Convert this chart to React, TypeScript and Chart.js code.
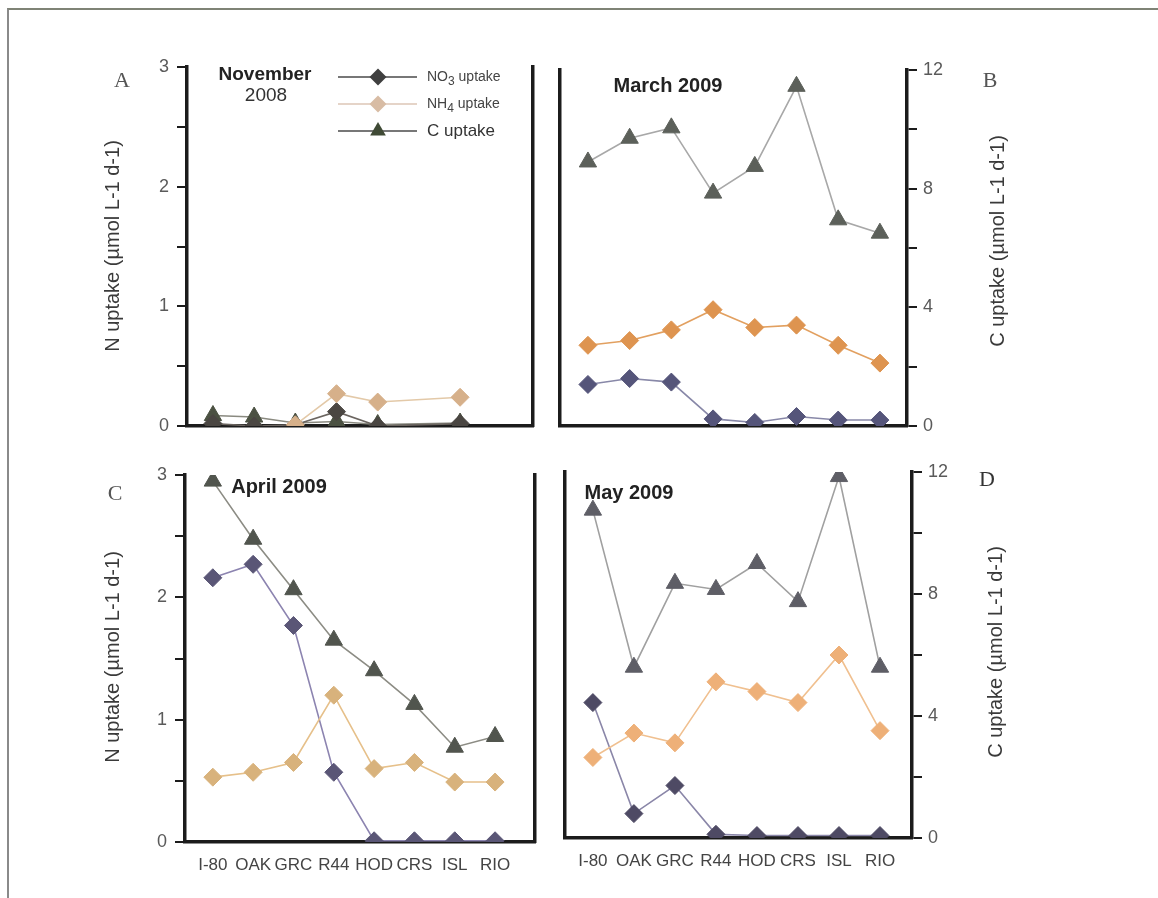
import React, { useEffect, useRef } from 'react';
import { Chart, registerables } from 'chart.js';

Chart.register(...registerables);

// ---------- data ----------
const SITES = ['I-80', 'OAK', 'GRC', 'R44', 'HOD', 'CRS', 'ISL', 'RIO'];
const N_MAX = 3; // N uptake axis (µmol L-1 d-1)
const C_MAX = 12; // C uptake axis (µmol L-1 d-1)

// November 2008
const NOV_NO3 = [0.02, 0.0, 0.01, 0.12, 0.0, null, 0.02, null];
const NOV_NH4 = [null, null, 0.01, 0.27, 0.2, null, 0.24, null];
const NOV_C = [0.35, 0.3, 0.1, 0.15, 0.05, null, 0.1, null];

// March 2009
const MAR_NO3 = [0.35, 0.4, 0.37, 0.06, 0.03, 0.08, 0.05, 0.05];
const MAR_NH4 = [0.68, 0.72, 0.81, 0.98, 0.83, 0.85, 0.68, 0.53];
const MAR_C = [8.9, 9.7, 10.05, 7.85, 8.75, 11.45, 6.95, 6.5];

// April 2009
const APR_NO3 = [2.16, 2.27, 1.77, 0.57, 0.01, 0.01, 0.01, 0.01];
const APR_NH4 = [0.53, 0.57, 0.65, 1.2, 0.6, 0.65, 0.49, 0.49];
const APR_C = [11.8, 9.9, 8.25, 6.6, 5.6, 4.5, 3.1, 3.45];

// May 2009
const MAY_NO3 = [1.11, 0.2, 0.43, 0.03, 0.02, 0.02, 0.02, 0.02];
const MAY_NH4 = [0.66, 0.86, 0.78, 1.28, 1.2, 1.11, 1.5, 0.88];
const MAY_C = [10.75, 5.6, 8.35, 8.15, 9.0, 7.75, 11.85, 5.6];

// ---------- layout / style ----------
const ML = 110, MR = 110, MT = 30, MB = 50;
const FONT = '"Liberation Sans", Arial, sans-serif';
const SERIF = '"Liberation Serif", "DejaVu Serif", serif';
const AXIS = '#1c1c1c';

type Colors = { no3L: string; no3P: string; nh4L: string; nh4P: string; cL: string; cP: string };

type Spec = {
  L: number; T: number; R: number; B: number;
  xMin: number; xMax: number;
  no3: (number | null)[]; nh4: (number | null)[]; c: (number | null)[];
  leftTicks: boolean; rightTicks: boolean; xLabels: boolean; legend?: boolean;
  col: Colors;
};

const PANELS: Spec[] = [
  {
    L: 187, T: 67, R: 533, B: 426, xMin: -0.63, xMax: 7.77,
    no3: NOV_NO3, nh4: NOV_NH4, c: NOV_C,
    leftTicks: true, rightTicks: false, xLabels: false, legend: true,
    col: { no3L: '#6b6560', no3P: '#4a4642', nh4L: '#e3c9a8', nh4P: '#d6b08a', cL: '#8a8a80', cP: '#4b5142' },
  },
  {
    L: 560, T: 70, R: 907, B: 426, xMin: -0.67, xMax: 7.65,
    no3: MAR_NO3, nh4: MAR_NH4, c: MAR_C,
    leftTicks: false, rightTicks: true, xLabels: false,
    col: { no3L: '#8888a8', no3P: '#55557a', nh4L: '#e2a060', nh4P: '#de9450', cL: '#a8a8a8', cP: '#5c605a' },
  },
  {
    L: 185, T: 475, R: 535, B: 842, xMin: -0.69, xMax: 7.99,
    no3: APR_NO3, nh4: APR_NH4, c: APR_C,
    leftTicks: true, rightTicks: false, xLabels: true,
    col: { no3L: '#8c84b0', no3P: '#5a5676', nh4L: '#e6c08a', nh4P: '#d8b27c', cL: '#8c8c84', cP: '#51554e' },
  },
  {
    L: 565, T: 472, R: 912, B: 838, xMin: -0.68, xMax: 7.78,
    no3: MAY_NO3, nh4: MAY_NH4, c: MAY_C,
    leftTicks: false, rightTicks: true, xLabels: true,
    col: { no3L: '#8a86a8', no3P: '#4e4a64', nh4L: '#f0c090', nh4P: '#eeb078', cL: '#a0a0a0', cP: '#5e5e66' },
  },
];

const mk = (vals: (number | null)[]) => vals.map((v, i) => ({ x: i, y: v }));

function drawDiamond(ctx: CanvasRenderingContext2D, x: number, y: number, r: number, fill: string) {
  ctx.beginPath();
  ctx.moveTo(x, y - r); ctx.lineTo(x + r, y); ctx.lineTo(x, y + r); ctx.lineTo(x - r, y);
  ctx.closePath(); ctx.fillStyle = fill; ctx.fill();
}
function drawTri(ctx: CanvasRenderingContext2D, x: number, y: number, r: number, fill: string) {
  ctx.beginPath();
  ctx.moveTo(x, y - r); ctx.lineTo(x + r * 0.87, y + r * 0.5); ctx.lineTo(x - r * 0.87, y + r * 0.5);
  ctx.closePath(); ctx.fillStyle = fill; ctx.fill();
}

function Panel({ s }: { s: Spec }) {
  const ref = useRef<HTMLCanvasElement>(null);
  const W = s.R - s.L + ML + MR;
  const H = s.B - s.T + MT + MB;
  useEffect(() => {
    if (!ref.current) return;
    const legendPlugin = {
      id: 'legendMarks',
      afterDraw(chart: any) {
        if (!s.legend) return;
        const ctx = chart.ctx as CanvasRenderingContext2D;
        const ox = s.L - ML, oy = s.T - MT;
        const rows = [
          { y: 77, line: '#4a4a4a', fill: '#3f3f3f', shape: 'd' },
          { y: 104, line: '#dcc6b6', fill: '#d8bca4', shape: 'd' },
          { y: 131, line: '#4a4a4a', fill: '#3f4a35', shape: 't' },
        ];
        ctx.save();
        rows.forEach((r) => {
          ctx.strokeStyle = r.line; ctx.lineWidth = 1.5;
          ctx.beginPath(); ctx.moveTo(338 - ox, r.y - oy); ctx.lineTo(417 - ox, r.y - oy); ctx.stroke();
          if (r.shape === 'd') drawDiamond(ctx, 378 - ox, r.y - oy, 8.5, r.fill);
          else drawTri(ctx, 378 - ox, r.y - oy, 9, r.fill);
        });
        ctx.restore();
      },
    };
    const ds = (label: string, vals: (number | null)[], axis: string, line: string, pt: string, style: string, radius: number) => ({
      label, data: mk(vals), yAxisID: axis,
      borderColor: line, backgroundColor: pt,
      pointBackgroundColor: pt, pointBorderColor: pt, pointBorderWidth: 1,
      pointStyle: style, pointRadius: radius, borderWidth: 1.6, spanGaps: true, tension: 0,
    });
    const chart = new Chart(ref.current, {
      type: 'line',
      data: {
        datasets: [
          ds('NH4 uptake', s.nh4, 'y', s.col.nh4L, s.col.nh4P, 'rectRot', 9),
          ds('NO3 uptake', s.no3, 'y', s.col.no3L, s.col.no3P, 'rectRot', 9),
          ds('C uptake', s.c, 'y1', s.col.cL, s.col.cP, 'triangle', 10),
        ] as any,
      },
      options: {
        responsive: false,
        animation: false,
        layout: { padding: { top: MT, left: 0, right: 0, bottom: 0 } },
        plugins: { legend: { display: false }, tooltip: { enabled: false }, title: { display: false } },
        scales: {
          x: {
            type: 'linear', min: s.xMin, max: s.xMax,
            afterBuildTicks: (sc: any) => { sc.ticks = SITES.map((_, i) => ({ value: i })); },
            afterFit: (sc: any) => { sc.height = MB; },
            ticks: {
              display: s.xLabels, autoSkip: false, maxRotation: 0, padding: 13,
              callback: (v: any) => SITES[v as number] ?? '',
              font: { family: FONT, size: 17 }, color: '#444',
            },
            grid: { display: false, drawTicks: false },
            border: { display: true, color: AXIS, width: 3.5 },
          },
          y: {
            type: 'linear', position: 'left', min: 0, max: N_MAX,
            afterFit: (sc: any) => { sc.width = ML; },
            ticks: {
              display: s.leftTicks, stepSize: 0.5, padding: 8,
              callback: (v: any) => (Number.isInteger(v) ? String(v) : ''),
              font: { family: FONT, size: 18 }, color: '#5a5a5a',
            },
            grid: { display: s.leftTicks, drawOnChartArea: false, drawTicks: true, tickLength: 10, color: AXIS, lineWidth: 2 },
            border: { display: true, color: AXIS, width: 3.5 },
          },
          y1: {
            type: 'linear', position: 'right', min: 0, max: C_MAX,
            afterFit: (sc: any) => { sc.width = MR; },
            ticks: {
              display: s.rightTicks, stepSize: 2, padding: 6,
              callback: (v: any) => ((v as number) % 4 === 0 ? String(v) : ''),
              font: { family: FONT, size: 18 }, color: '#5a5a5a',
            },
            grid: { display: s.rightTicks, drawOnChartArea: false, drawTicks: true, tickLength: 10, color: AXIS, lineWidth: 2 },
            border: { display: true, color: AXIS, width: 3.5 },
          },
        },
      } as any,
      plugins: [legendPlugin],
    });
    return () => chart.destroy();
  }, []);
  return (
    <canvas
      ref={ref}
      width={W}
      height={H}
      style={{ position: 'absolute', left: s.L - ML, top: s.T - MT, width: W, height: H }}
    />
  );
}

function Txt({ x, y, children, style }: { x: number; y: number; children: any; style?: any }) {
  return (
    <div
      style={{
        position: 'absolute', left: x, top: y, transform: 'translate(-50%, -50%)',
        whiteSpace: 'nowrap', lineHeight: 1, fontFamily: FONT, ...style,
      }}
    >
      {children}
    </div>
  );
}

function VTxt({ x, y, children }: { x: number; y: number; children: any }) {
  return (
    <div
      style={{
        position: 'absolute', left: x, top: y, transform: 'translate(-50%, -50%) rotate(-90deg)',
        whiteSpace: 'nowrap', lineHeight: 1, fontFamily: FONT, fontSize: 20, color: '#3a3a3a',
      }}
    >
      {children}
    </div>
  );
}

export default function App() {
  const letter = { fontFamily: SERIF, fontSize: 22, color: '#555' };
  const title = { fontWeight: 'bold', fontSize: 20, color: '#222' };
  return (
    <div style={{ position: 'fixed', left: 0, top: 0, width: 1158, height: 898, background: '#fff', overflow: 'hidden' }}>
      <div style={{ position: 'absolute', left: 7, top: 8, right: 0, bottom: 0, borderTop: '2px solid #7f8376', borderLeft: '2px solid #8a8a8a' }} />
      {PANELS.map((p, i) => <Panel key={i} s={p} />)}

      <Txt x={122} y={80} style={letter}>A</Txt>
      <Txt x={990} y={80} style={letter}>B</Txt>
      <Txt x={115} y={493} style={letter}>C</Txt>
      <Txt x={987} y={479} style={{ ...letter, color: '#333' }}>D</Txt>

      <Txt x={265} y={73} style={{ ...title, fontSize: 19 }}>November</Txt>
      <Txt x={266} y={94} style={{ fontSize: 19, color: '#333' }}>2008</Txt>
      <Txt x={668} y={85} style={title}>March 2009</Txt>
      <Txt x={279} y={486} style={title}>April 2009</Txt>
      <Txt x={629} y={492} style={title}>May 2009</Txt>

      <VTxt x={112} y={246}>N uptake (µmol L-1 d-1)</VTxt>
      <VTxt x={112} y={657}>N uptake (µmol L-1 d-1)</VTxt>
      <VTxt x={997} y={241}>C uptake (µmol L-1 d-1)</VTxt>
      <VTxt x={995} y={652}>C uptake (µmol L-1 d-1)</VTxt>

      <div style={{ position: 'absolute', left: 427, top: 69, fontFamily: FONT, fontSize: 14, color: '#444', lineHeight: 1 }}>
        NO<sub style={{ fontSize: 12 }}>3</sub> uptake
      </div>
      <div style={{ position: 'absolute', left: 427, top: 96, fontFamily: FONT, fontSize: 14, color: '#444', lineHeight: 1 }}>
        NH<sub style={{ fontSize: 12 }}>4</sub> uptake
      </div>
      <div style={{ position: 'absolute', left: 427, top: 122, fontFamily: FONT, fontSize: 17, color: '#333', lineHeight: 1 }}>
        C uptake
      </div>
    </div>
  );
}
